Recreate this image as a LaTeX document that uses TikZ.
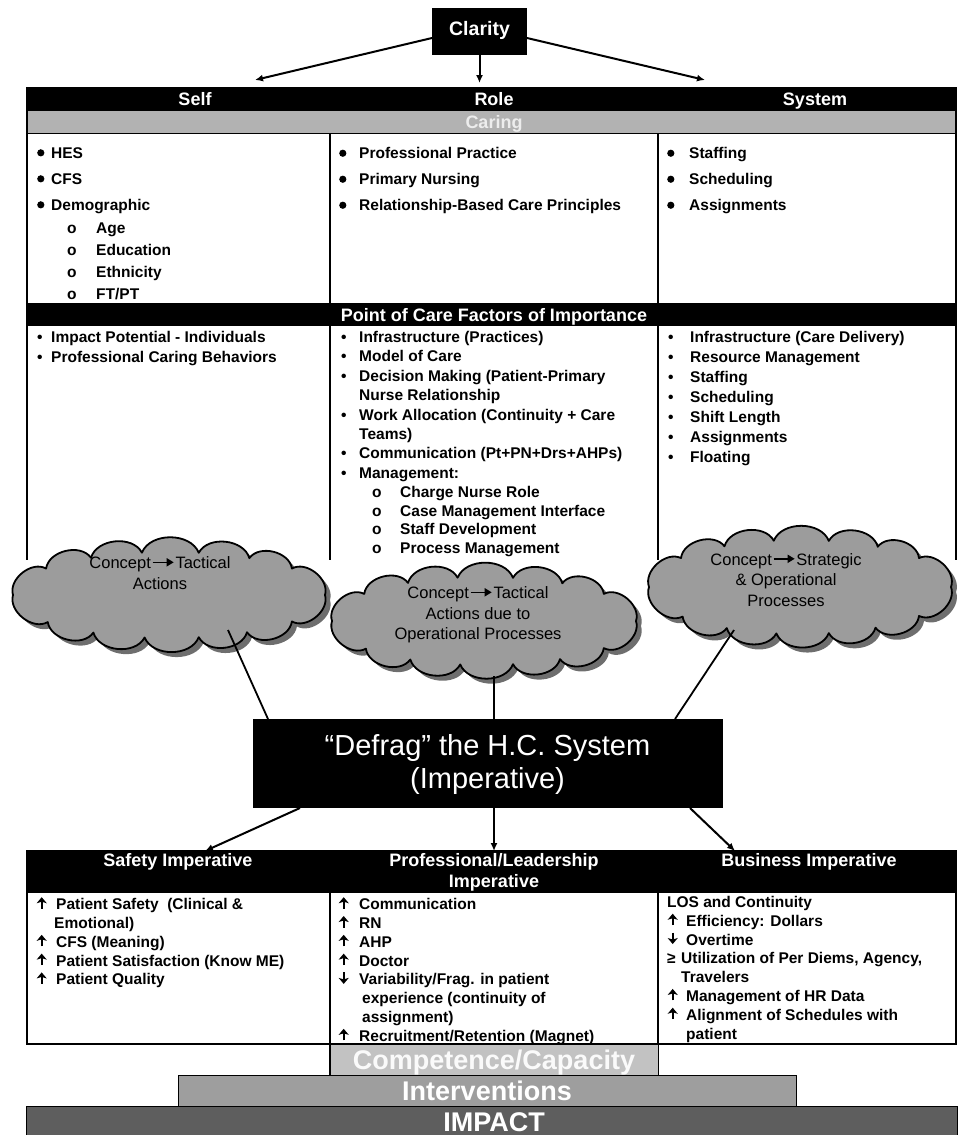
\documentclass[tikz,border=0pt]{standalone}
\usepackage{fontspec}
\setmainfont{Liberation Sans}
\usetikzlibrary{arrows.meta}
\definecolor{caringgray}{HTML}{B2B2B2}
\definecolor{caringtxt}{HTML}{EDEDED}
\definecolor{cloudgray}{HTML}{9C9C9C}
\definecolor{shadowgray}{HTML}{6E6E6E}
\definecolor{compgray}{HTML}{C2C2C2}
\definecolor{intgray}{HTML}{9E9E9E}
\definecolor{impgray}{HTML}{5E5E5E}
\newcommand\bigdot[1]{\makebox[#1][l]{\raisebox{1.6pt}{\tikz\fill (0pt,0pt) circle (3.6pt);}}}
\newcommand\smdot[1]{\makebox[#1][l]{\textbullet}}
\newcommand\subo[1]{\makebox[#1][l]{o}}
\newcommand\upa[1]{\makebox[#1][l]{\hspace{0.5pt}\tikz\draw[line width=2pt,-{Stealth[length=6pt,width=10pt,inset=1.5pt]}] (0pt,0pt)--(0pt,11.5pt);}}
\newcommand\dna[1]{\makebox[#1][l]{\hspace{0.5pt}\tikz\draw[line width=2pt,-{Stealth[length=6pt,width=10pt,inset=1.5pt]}] (0pt,11.5pt)--(0pt,0pt);}}
\newcommand\gea[1]{\makebox[#1][l]{≥}}
\newcommand\carr{\hspace{1pt}\raisebox{2.2pt}{\tikz\draw[line width=1.6pt,-{Triangle[length=7pt,width=8pt]}] (0pt,0pt)--(21pt,0pt);}\hspace{1pt}}
% custom cloud outline: options, cx, cy, a, b
\newcommand\puffcloud[5]{%
  \path[#1] ({#2+#4},{#3})
    foreach \t in {38,60,79,99,119,141,180,218,240,260,281,301,322,360}
    { to[bend left=68] ({#2+#4*cos(\t)},{#3+#5*sin(\t)}) } -- cycle;}
\begin{document}
\begin{tikzpicture}[x=1pt,y=-1pt,
  bar/.style={fill=black,inner sep=0pt,anchor=north west},
  hdr/.style={anchor=base,inner sep=0pt,text=white,font=\fontsize{18}{18}\selectfont\bfseries},
  frame/.style={line width=2.2pt},
  divl/.style={line width=1.8pt},
  cell/.style={anchor=north west,inner sep=0pt,align=left,font=\fontsize{15.5}{#1}\selectfont\bfseries},
  cloudfill/.style={fill=cloudgray,draw=black,line width=1.8pt,line join=round},
  cloudshadow/.style={fill=shadowgray},
  ctext/.style={anchor=base,inner sep=0pt,align=center,font=\fontsize{16.5}{20.5}\selectfont},
  conn/.style={line width=1.8pt},
  arr/.style={line width=2pt,-{Latex[length=8pt,width=7pt]}},
  pyr/.style={anchor=north west,inner sep=0pt,draw=black,line width=1.2pt},
  pyrtxt/.style={anchor=base,inner sep=0pt,text=white,font=\fontsize{27}{27}\selectfont\bfseries}
]
\useasboundingbox (0,0) rectangle (968,1135);

% Clarity
\node[fill=black,inner sep=0pt,minimum width=95pt,minimum height=47pt] (clar) at (479.5,31) {};
\node[hdr,font=\fontsize{19.5}{19.5}\selectfont\bfseries] (clart) at (479.5,35) {Clarity};
\coordinate (cl1) at (432,38);
\coordinate (cl2) at (527,38);
\coordinate (tSelfA) at (255,80);
\coordinate (tRoleA) at (479.5,83);
\coordinate (tSysA) at (705,80);
\draw[arr] (cl1) -- (tSelfA);
\draw[arr] (clar.south) -- (tRoleA);
\draw[arr] (cl2) -- (tSysA);

% header bars
\node[bar,minimum width=931pt,minimum height=24pt] (hbar) at (26,87) {};
\node[hdr] (tself) at (195,105.5) {Self};
\node[hdr] (trole) at (494,105.5) {Role};
\node[hdr] (tsys) at (815,105.5) {System};
\node[bar,fill=caringgray,minimum width=931pt,minimum height=22pt] (cbar) at (26,111) {};
\node[hdr,text=caringtxt] (tcar) at (494,128.5) {Caring};

% frame of upper table
\draw[frame] (27,111) -- (27,560);
\draw[frame] (956,111) -- (956,560);
\draw[divl] (26,133.5) -- (957,133.5);
\draw[divl] (330,133) -- (330,303);
\draw[divl] (658,133) -- (658,303);
\node[bar,minimum width=931pt,minimum height=23pt] (pbar) at (26,303) {};
\node[hdr] (tpoc) at (494,321) {Point of Care Factors of Importance};
\draw[divl] (330,326) -- (330,560);
\draw[divl] (658,326) -- (658,560);

% row 1
\node[cell=22] (r1a) at (37,147) {%
\bigdot{14pt}HES\\[4pt]
\bigdot{14pt}CFS\\[4pt]
\bigdot{14pt}Demographic\\[1pt]
\hspace*{30pt}\subo{29pt}Age\\
\hspace*{30pt}\subo{29pt}Education\\
\hspace*{30pt}\subo{29pt}Ethnicity\\
\hspace*{30pt}\subo{29pt}FT/PT};
\node[cell=22] (r1b) at (339,147) {%
\bigdot{20pt}Professional Practice\\[4pt]
\bigdot{20pt}Primary Nursing\\[4pt]
\bigdot{20pt}Relationship-Based Care Principles};
\node[cell=22] (r1c) at (667,147) {%
\bigdot{22pt}Staffing\\[4pt]
\bigdot{22pt}Scheduling\\[4pt]
\bigdot{22pt}Assignments};

% row 2
\node[cell=19.7] (r2a) at (37,331) {%
\smdot{14pt}Impact Potential - Individuals\\
\smdot{14pt}Professional Caring Behaviors};
\node[cell=19.4] (r2b) at (341,331) {%
\smdot{18pt}Infrastructure (Practices)\\
\smdot{18pt}Model of Care\\
\smdot{18pt}Decision Making (Patient-Primary\\
\hspace*{18pt}Nurse Relationship\\
\smdot{18pt}Work Allocation (Continuity + Care\\
\hspace*{18pt}Teams)\\
\smdot{18pt}Communication (Pt+PN+Drs+AHPs)\\
\smdot{18pt}Management:\\[-0.5pt]
\hspace*{31pt}\subo{28pt}Charge Nurse Role\\[-0.5pt]
\hspace*{31pt}\subo{28pt}Case Management Interface\\[-0.5pt]
\hspace*{31pt}\subo{28pt}Staff Development\\[-0.5pt]
\hspace*{31pt}\subo{28pt}Process Management};
\node[cell=20] (r2c) at (668,331) {%
\smdot{22pt}Infrastructure (Care Delivery)\\
\smdot{22pt}Resource Management\\
\smdot{22pt}Staffing\\
\smdot{22pt}Scheduling\\
\smdot{22pt}Shift Length\\
\smdot{22pt}Assignments\\
\smdot{22pt}Floating};

% clouds (shadow, then body)
\puffcloud{cloudshadow}{174}{600}{156}{43}
\puffcloud{cloudfill}{169}{595}{156}{43}
\puffcloud{cloudshadow}{489}{626}{152}{44}
\puffcloud{cloudfill}{484}{621}{152}{44}
\puffcloud{cloudshadow}{805}{592}{151}{47}
\puffcloud{cloudfill}{800}{587}{151}{47}
\node[ctext] (cLt) at (160,589) {Concept\carr Tactical\\Actions};
\node[ctext] (cMt) at (478,639.5) {Concept\carr Tactical\\Actions due to\\Operational Processes};
\node[ctext] (cRt) at (786,606) {Concept\carr Strategic\\\& Operational\\Processes};

% Defrag box
\node[fill=black,inner sep=0pt,minimum width=470pt,minimum height=89pt] (defrag) at (487.5,763.5) {};
\node[anchor=base,inner sep=0pt,align=center,text=white,font=\fontsize{29}{33}\selectfont] (defragt) at (487.5,788.5) {“Defrag” the H.C. System\\(Imperative)};
\coordinate (cLa) at (228,630);
\coordinate (cMa) at (494,676);
\coordinate (cRa) at (734,630);
\coordinate (dL) at (268,719);
\coordinate (dM) at (494,719);
\coordinate (dR) at (675,719);
\draw[conn] (cLa) -- (dL);
\draw[conn] (cMa) -- (dM);
\draw[conn] (cRa) -- (dR);

% arrows down
\coordinate (dLb) at (300,808);
\coordinate (dMb) at (494,808);
\coordinate (dRb) at (690,808);
\coordinate (sA) at (205,851);
\coordinate (pA) at (494,851);
\coordinate (bA) at (735,851);
\draw[arr] (dLb) -- (sA);
\draw[arr] (dMb) -- (pA);
\draw[arr] (dRb) -- (bA);

% bottom table
\node[bar,minimum width=931pt,minimum height=43pt] (bbar) at (26,850) {};
\node[hdr] (tsaf) at (178,866.5) {Safety Imperative};
\node[hdr,align=center,font=\fontsize{18}{21}\selectfont\bfseries] (tpro) at (494,887.5) {Professional/Leadership\\Imperative};
\node[hdr] (tbus) at (809,866.5) {Business Imperative};
\draw[frame] (27,893) -- (27,1044);
\draw[frame] (956,893) -- (956,1044);
\draw[divl] (26,1044) -- (957,1044);
\draw[divl] (330,893) -- (330,1075);
\draw[divl] (658,893) -- (658,1075);

\node[cell=18.8] (b1) at (36,896) {%
\upa{20pt}Patient Safety\ \ (Clinical \&\\
\hspace*{18pt}Emotional)\\
\upa{20pt}CFS (Meaning)\\
\upa{20pt}Patient Satisfaction (Know ME)\\
\upa{20pt}Patient Quality};
\node[cell=18.8] (b2) at (338,896) {%
\upa{21pt}Communication\\
\upa{21pt}RN\\
\upa{21pt}AHP\\
\upa{21pt}Doctor\\
\dna{21pt}Variability/Frag. in patient\\
\hspace*{24pt}experience (continuity of\\
\hspace*{24pt}assignment)\\
\upa{21pt}Recruitment/Retention (Magnet)};
\node[cell=18.8] (b3) at (667,896) {%
LOS and Continuity\\
\upa{19pt}Efficiency: Dollars\\
\dna{19pt}Overtime\\
\gea{14pt}Utilization of Per Diems, Agency,\\
\hspace*{14pt}Travelers\\
\upa{19pt}Management of HR Data\\
\upa{19pt}Alignment of Schedules with\\
\hspace*{19pt}patient};

% pyramid
\node[pyr,fill=compgray,minimum width=328pt,minimum height=31pt] (comp) at (330,1044) {};
\node[pyrtxt,text=white!92!compgray] (compt) at (494,1069) {Competence/Capacity};
\node[pyr,fill=intgray,minimum width=618pt,minimum height=32pt] (intv) at (178,1075) {};
\node[pyrtxt] (intvt) at (487,1100.5) {Interventions};
\node[pyr,fill=impgray,minimum width=931pt,minimum height=32pt] (imp) at (26,1106) {};
\node[pyrtxt] (impt) at (494,1131.5) {IMPACT};
\end{tikzpicture}
\end{document}
